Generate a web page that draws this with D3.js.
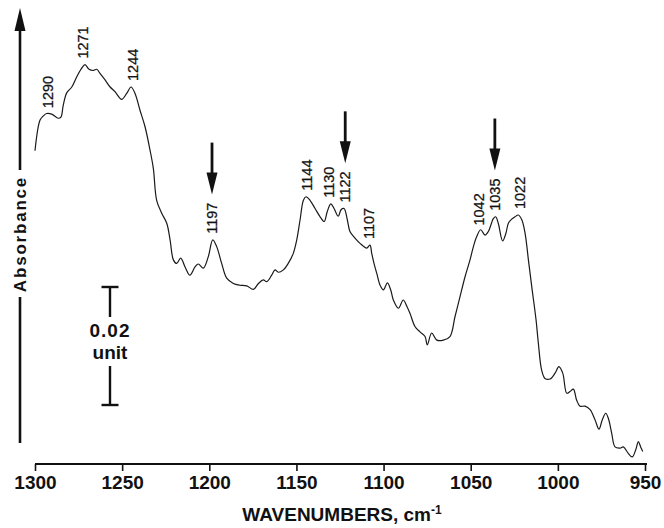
<!DOCTYPE html>
<html>
<head>
<meta charset="utf-8">
<script src="https://cdn.jsdelivr.net/npm/d3@7/dist/d3.min.js"></script>
<style>
  html, body { margin: 0; padding: 0; background: #fff; }
  svg { display: block; font-family: "Liberation Sans", Arial, Helvetica, sans-serif; }
</style>
</head>
<body>
<svg id="chart" width="664" height="528"></svg>
<script>
// Wavenumbers (cm-1) and absorbance (x 10^-3, arbitrary offset)
const wavenumbers = [1300,1297.1,1295.2,1293.3,1290.4,1286.6,1285.1,1283.8,1281.8,1278.9,1276.1,1273.2,1271.3,1269.0,1266.5,1264.6,1262.7,1259.8,1256.9,1254.1,1250.3,1247.4,1244.9,1242.6,1239.8,1236.9,1234.0,1232.1,1230.2,1227.3,1224.4,1222.5,1220.6,1218.7,1216.4,1213.9,1211.1,1208.2,1206.3,1203.4,1200.6,1198.0,1195.7,1192.9,1190.0,1186.2,1182.4,1178.5,1174.7,1171.8,1169.0,1167.0,1164.2,1162.3,1160.4,1157.5,1154.7,1151.8,1149.8,1147.9,1146.0,1144.5,1142.2,1139.3,1136.4,1134.1,1132.3,1130.3,1128.4,1126.0,1124.4,1122.7,1120.8,1119.3,1116.4,1113.5,1109.7,1107.8,1106.8,1105.5,1103.9,1102.0,1100.1,1097.8,1095.9,1094.4,1091.5,1088.7,1086.6,1084.8,1082.0,1079.1,1076.2,1074.9,1072.4,1069.5,1065.7,1061.9,1059.0,1056.1,1053.3,1050.4,1048.5,1046.6,1044.3,1041.8,1039.9,1037.0,1035.7,1034.2,1031.7,1029.8,1028.4,1026.5,1024.6,1022.7,1020.7,1018.8,1016.9,1015.0,1012.5,1011.2,1009.3,1007.4,1004.5,1001.6,999.4,997.2,994.9,993.0,991.1,989.2,987.3,984.4,981.5,978.7,976.4,974.5,972.5,971.0,969.1,967.2,964.3,962.4,959.6,957.3,955.3,953.8,952.5,951.3];
const absorbance = [53.1,58.3,59.0,59.4,59.3,58.6,58.8,60.8,62.9,63.9,65.6,67.1,67.7,66.9,66.7,66.9,66.2,65.1,63.9,63.1,61.8,62.8,63.9,62.8,60.0,57.2,53.2,50.1,44.7,42.5,40.8,38.0,34.6,34.0,34.9,33.4,32.0,33.4,33.9,33.2,35.1,38.0,36.8,34.0,31.5,30.6,30.3,30.2,29.6,30.6,31.2,30.9,32.0,32.9,32.5,32.9,34.0,35.7,38.0,41.4,44.7,45.3,44.7,43.3,41.9,41.1,42.8,44.1,43.3,42.0,43.1,43.3,41.4,39.4,38.3,37.4,36.6,37.1,35.7,34.0,32.3,30.3,29.5,30.7,29.5,27.8,26.4,27.8,26.7,25.5,23.3,22.4,21.6,20.2,22.2,21.0,21.0,21.6,25.0,28.4,31.7,34.6,36.8,38.5,39.7,38.8,39.4,41.6,41.9,40.8,37.8,39.1,40.8,41.5,41.9,42.2,41.4,39.1,34.6,30.1,24.4,20.5,15.9,14.5,14.4,15.4,16.5,15.4,12.0,12.3,12.7,10.8,9.8,9.8,9.2,7.5,5.9,7.5,8.6,7.7,5.2,2.9,2.7,2.9,1.8,1.2,2.4,3.8,2.9,2.1];

const xTicks = [1300,1250,1200,1150,1100,1050,1000,950];
const peakLabels = [1290,1271,1244,1197,1144,1130,1122,1107,1042,1035,1022];
const peakNudge  = [-4,-2.5,0,-2.5,0,-2,0,-2,-6,-2,0];
const arrowPeaks = [1197,1122,1035];
const scaleBar = [10, 30]; // 0.02 absorbance unit (20 x 10^-3)

const svg = d3.select("#chart");
const x = d3.scaleLinear().domain([1300, 950]).range([35, 645]);
const y = d3.scaleLinear().domain([0, 80]).range([464, -8]);

const data = wavenumbers.map((w, i) => ({w, a: absorbance[i]}));

// spectrum
svg.append("path")
  .datum(data)
  .attr("fill", "none")
  .attr("stroke", "#1a1a1a")
  .attr("stroke-width", 1.2)
  .attr("stroke-linejoin", "round")
  .attr("d", d3.line().x(d => x(d.w)).y(d => y(d.a)).curve(d3.curveCatmullRom.alpha(0.5)));

// x axis
const xAxis = d3.axisBottom(x).tickValues(xTicks).tickSize(7).tickPadding(5).tickFormat(d3.format("d"));
const gx = svg.append("g").attr("transform", "translate(0,464)").call(xAxis);
gx.select(".domain").attr("stroke", "#111").attr("stroke-width", 1.8).attr("d", "M35,0H647");
gx.selectAll(".tick line").attr("stroke", "#111").attr("stroke-width", 1.6);
gx.selectAll(".tick text")
  .attr("fill", "#111")
  .style("font-size", "19px")
  .style("font-weight", "bold")
  .style("font-family", "'Liberation Sans', Arial, sans-serif");

svg.append("text")
  .attr("x", 342).attr("y", 521)
  .attr("text-anchor", "middle")
  .style("font-size", "19px").style("font-weight", "bold").attr("fill", "#111")
  .text("WAVENUMBERS, cm")
  .append("tspan").attr("dy", -7).style("font-size", "12px").text("-1");

// y "Absorbance" arrow
const yLabelX = 20;
svg.append("line").attr("x1", yLabelX).attr("x2", yLabelX).attr("y1", 28).attr("y2", 170)
  .attr("stroke", "#111").attr("stroke-width", 2.6);
svg.append("line").attr("x1", yLabelX).attr("x2", yLabelX).attr("y1", 297).attr("y2", 443)
  .attr("stroke", "#111").attr("stroke-width", 2.6);
svg.append("path").attr("d", `M${yLabelX},8L${yLabelX-5.5},31L${yLabelX+5.5},31Z`).attr("fill", "#111");
svg.append("text")
  .attr("transform", `translate(${yLabelX},234) rotate(-90)`)
  .attr("text-anchor", "middle").attr("dominant-baseline", "central")
  .style("font-size", "17px").style("font-weight", "bold").style("letter-spacing", "1.8px")
  .attr("fill", "#111")
  .text("Absorbance");

// scale bar
const sbX = 110;
const sbTop = y(scaleBar[1]), sbBot = y(scaleBar[0]);
const sb = svg.append("g").attr("stroke", "#111").attr("stroke-width", 2.4);
sb.append("line").attr("x1", sbX - 8.5).attr("x2", sbX + 8.5).attr("y1", sbTop).attr("y2", sbTop);
sb.append("line").attr("x1", sbX - 8.5).attr("x2", sbX + 8.5).attr("y1", sbBot).attr("y2", sbBot);
sb.append("line").attr("x1", sbX).attr("x2", sbX).attr("y1", sbTop).attr("y2", sbTop + 30);
sb.append("line").attr("x1", sbX).attr("x2", sbX).attr("y1", sbBot - 39).attr("y2", sbBot);
svg.append("text").attr("x", sbX).attr("y", 337).attr("text-anchor", "middle")
  .style("font-size", "19px").style("font-weight", "bold").style("letter-spacing", "1px").attr("fill", "#111").text("0.02");
svg.append("text").attr("x", sbX).attr("y", 359).attr("text-anchor", "middle")
  .style("font-size", "19px").style("font-weight", "bold").attr("fill", "#111").text("unit");

// peak labels
function localMax(w) {
  const near = data.filter(d => Math.abs(d.w - w) <= 2.2);
  return d3.max(near, d => d.a);
}
const labelTops = {};
peakLabels.forEach((p, i) => {
  const px = x(p) + peakNudge[i];
  const bottom = y(localMax(p)) - 6;
  const t = svg.append("text")
    .attr("transform", `translate(${px},${bottom}) rotate(-90)`)
    .attr("text-anchor", "start").attr("dominant-baseline", "central")
    .style("font-size", "14.5px").attr("fill", "#111")
    .attr("stroke", "#111").attr("stroke-width", 0.25)
    .text(p);
  const len = t.node().getComputedTextLength();
  labelTops[p] = {x: px, top: bottom - len};
});

// arrows
arrowPeaks.forEach(p => {
  const lt = labelTops[p];
  const tip = lt.top - 8;
  svg.append("line").attr("x1", lt.x).attr("x2", lt.x).attr("y1", tip - 52).attr("y2", tip - 18)
    .attr("stroke", "#111").attr("stroke-width", 2.8);
  svg.append("path").attr("d", `M${lt.x},${tip}L${lt.x-5.5},${tip-22}L${lt.x+5.5},${tip-22}Z`).attr("fill", "#111");
});
</script>
</body>
</html>
